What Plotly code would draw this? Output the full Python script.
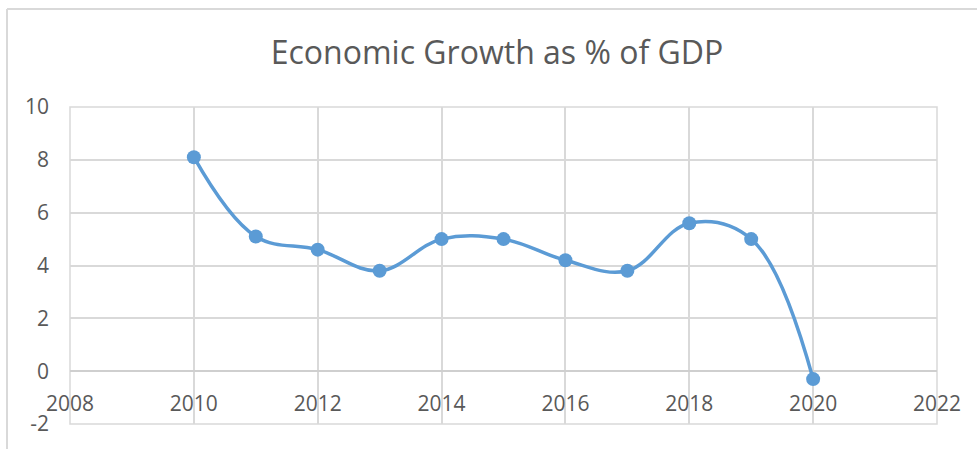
import plotly.graph_objects as go

years = [2010, 2011, 2012, 2013, 2014, 2015, 2016, 2017, 2018, 2019, 2020]
growth = [8.1, 5.1, 4.6, 3.8, 5.0, 5.0, 4.2, 3.8, 5.6, 5.0, -0.3]

x_ticks = [2008, 2010, 2012, 2014, 2016, 2018, 2020, 2022]
y_ticks = [-2, 0, 2, 4, 6, 8, 10]
y_labels = ["-2", "0", "2", "4", "6", "8", "10"]

W, H = 977, 449
L, R, T, B = 70, 40, 107, 22
pw, ph = W - L - R, H - T - B

def px(xpix):
    return (xpix - L) / pw

def py(ypix):
    return (H - B - ypix) / ph

grid = "#d9d9d9"
txt = "#595959"
font = "Open Sans, Liberation Sans, sans-serif"

fig = go.Figure()
fig.add_trace(go.Scatter(
    x=years, y=growth, mode="lines+markers",
    line=dict(color="#5b9bd5", width=3.5, shape="spline", smoothing=1.1),
    marker=dict(color="#5b9bd5", size=14),
    showlegend=False, hoverinfo="x+y",
))

zero_pos = (0 - y_ticks[0]) / (y_ticks[-1] - y_ticks[0])

fig.update_layout(
    width=W, height=H,
    margin=dict(l=L, r=R, t=T, b=B),
    paper_bgcolor="white", plot_bgcolor="white",
    title=dict(text="Economic Growth as % of GDP", x=0.5 * (272 + 722) / W, xanchor="center",
               y=1 - 53 / H, yanchor="middle",
               font=dict(family=font, size=32, color=txt)),
    xaxis=dict(range=[x_ticks[0], x_ticks[-1]], tickvals=x_ticks, showgrid=True,
               gridcolor=grid, gridwidth=1.5, zeroline=False, showline=False,
               anchor="free", position=zero_pos, ticks="", ticklabelstandoff=18,
               tickfont=dict(family=font, size=21, color=txt)),
    yaxis=dict(range=[y_ticks[0], y_ticks[-1]], tickvals=y_ticks, ticktext=y_labels,
               showgrid=True, gridcolor=grid, gridwidth=1.5, zeroline=True,
               zerolinecolor="#cfcfcf", zerolinewidth=1.5, showline=False, ticks="",
               ticklabelstandoff=20, tickfont=dict(family=font, size=21, color=txt)),
    shapes=[
        dict(type="rect", xref="paper", yref="paper", x0=0, x1=1, y0=0, y1=1,
             line=dict(color=grid, width=1.5), layer="below"),
        dict(type="line", xref="paper", yref="paper", x0=px(7), x1=px(7), y0=py(8), y1=py(460),
             line=dict(color=grid, width=2)),
        dict(type="line", xref="paper", yref="paper", x0=px(7), x1=px(990), y0=py(8), y1=py(8),
             line=dict(color=grid, width=2)),
    ],
)

fig.write_html("out.html")
